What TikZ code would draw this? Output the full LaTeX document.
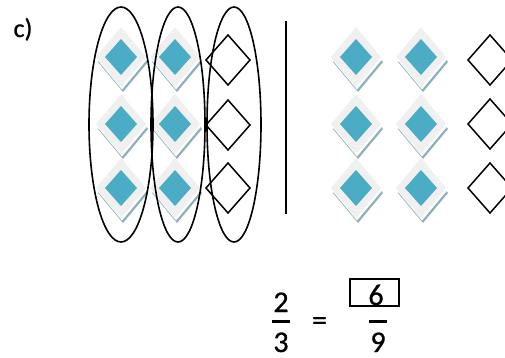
\documentclass[tikz,border=0pt]{standalone}
\usepackage{fontspec}
\setmainfont{Carlito}
\newfontfamily\darkfont[FakeBold=0.8]{Carlito}
\definecolor{dblue}{RGB}{75,172,198}
\definecolor{dgray}{RGB}{240,240,240}
\definecolor{dshadow}{RGB}{140,176,188}
\tikzset{
  tile/.pic={
    \fill[dshadow] (2,5) ++(-25,0) -- ++(25,-30) -- ++(25,30) -- ++(-25,30) -- cycle;
    \fill[white] (1,2.5) ++(-25,0) -- ++(25,-30) -- ++(25,30) -- ++(-25,30) -- cycle;
    \fill[dgray] (-25,0) -- (0,-30) -- (25,0) -- (0,30) -- cycle;
    \fill[dblue] (-16,0) -- (0,-18) -- (16,0) -- (0,18) -- cycle;
  },
  open/.pic={
    \draw[line width=1.5pt, line join=miter] (-22,0) -- (0,-25) -- (22,0) -- (0,25) -- cycle;
  },
  loop/.style={line width=1.6pt},
  txt/.style={inner sep=0pt, anchor=base, font=\darkfont\fontsize{30}{34}\selectfont},
  bar/.style={line width=3pt}
}
\begin{document}
\begin{tikzpicture}[x=1pt,y=-1pt]
\useasboundingbox (0,0) rectangle (505,358);
\node[inner sep=0pt, anchor=base, font=\darkfont\fontsize{26}{30}\selectfont] (lbl) at (23,37) {c)};
% left group
\foreach \y in {57,124,188} {
  \pic at (121,\y) {tile};
  \pic at (175,\y) {tile};
}
\foreach \y in {60,125,188} {\pic at (228,\y) {open};}
\draw[loop] (121,124.5) ellipse [x radius=32, y radius=117.5];
\draw[loop] (178,124.5) ellipse [x radius=27, y radius=117.5];
\draw[loop] (234,124.5) ellipse [x radius=27, y radius=117.5];
% divider
\coordinate (dtop) at (286,21);
\coordinate (dbot) at (286,214);
\draw[line width=1.5pt] (dtop) -- (dbot);
% right group
\foreach \y in {57,124,188} {
  \pic at (356,\y) {tile};
  \pic at (421,\y) {tile};
}
\foreach \y in {60,124,188} {\pic at (490,\y) {open};}
% equation
\node[txt] (n1) at (281,312) {2};
\node[txt] (d1) at (281,352) {3};
\draw[bar] (272,321.5) -- (290,321.5);
\node[txt] (eq) at (319.5,330) {=};
\draw[line width=1.3pt] (350,279) rectangle (399,306);
\node[txt] (n2) at (376,305) {6};
\draw[bar] (369,321.5) -- (387,321.5);
\node[txt] (d2) at (378,352) {9};
\end{tikzpicture}
\end{document}
